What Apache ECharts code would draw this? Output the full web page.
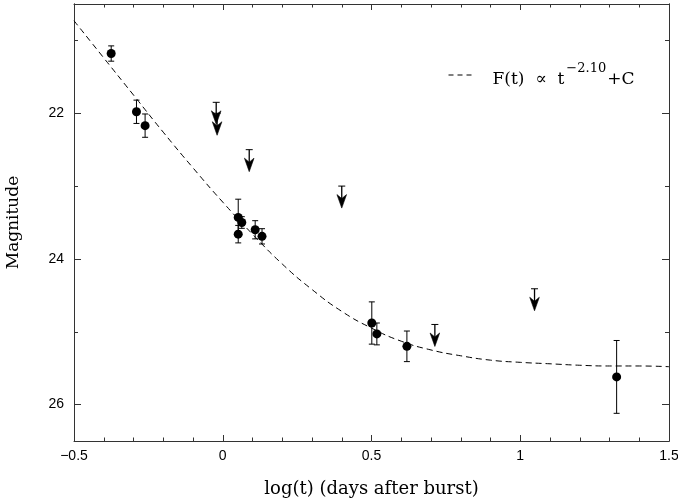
<!DOCTYPE html>
<html>
<head>
<meta charset="utf-8">
<script src="https://cdn.jsdelivr.net/npm/echarts@6/dist/echarts.min.js"></script>
<style>html,body{margin:0;padding:0;background:#fff}#c{width:678px;height:502px}</style>
</head>
<body>
<div id="c"></div>
<script>
// Detections: log(t), magnitude, 1-sigma error
var xPts   = [-0.375, -0.290, -0.261, 0.052, 0.064, 0.052, 0.109, 0.132, 0.501, 0.518, 0.619, 1.324];
var magPts = [21.18, 21.98, 22.17, 23.43, 23.50, 23.66, 23.60, 23.69, 24.88, 25.03, 25.20, 25.62];
var errPts = [0.105, 0.16, 0.16, 0.25, 0.08, 0.12, 0.125, 0.105, 0.29, 0.15, 0.21, 0.50];
// Upper limits
var xLim   = [-0.022, -0.019, 0.089, 0.400, 0.713, 1.048];
var magLim = [21.85, 22.00, 22.50, 23.00, 24.90, 24.41];
// Fitted curve samples
var xCurve   = [-0.5, -0.4, -0.3, -0.2, -0.1, 0.0, 0.1, 0.2, 0.3, 0.4, 0.5, 0.6, 0.7, 0.8, 0.9, 1.0, 1.1, 1.2, 1.3, 1.4, 1.5];
var magCurve = [20.73, 21.24, 21.75, 22.26, 22.75, 23.22, 23.66, 24.07, 24.42, 24.72, 24.95, 25.13, 25.25, 25.33, 25.39, 25.42, 25.44, 25.46, 25.47, 25.47, 25.48];
// Axis ticks
var xTicks = [-0.5, 0, 0.5, 1, 1.5];
var xTickLabels = ['\u22120.5', '0', '0.5', '1', '1.5'];
var yTicks = [22, 24, 26];
var yTickLabels = ['22', '24', '26'];
var yMinorTicks = [21, 23, 25];

var fitName = 'fit';
var axisColor = '#333';

var detData = xPts.map(function (x, i) { return [x, magPts[i]]; });
var errData = xPts.map(function (x, i) { return [x, magPts[i] - errPts[i], magPts[i] + errPts[i]]; });
var limData = xLim.map(function (x, i) { return [x, magLim[i]]; });
var curveData = xCurve.map(function (x, i) { return [x, magCurve[i]]; });

function xFmt(v) {
  for (var i = 0; i < xTicks.length; i++) if (Math.abs(xTicks[i] - v) < 1e-9) return xTickLabels[i];
  return '';
}
function yFmt(v) {
  for (var i = 0; i < yTicks.length; i++) if (Math.abs(yTicks[i] - v) < 1e-9) return yTickLabels[i];
  return '';
}

var xBase = {
  type: 'value', min: -0.5, max: 1.5, interval: 0.5,
  axisLine: { show: true, onZero: false, lineStyle: { color: axisColor, width: 1 } },
  axisTick: { show: true, inside: true, length: 6, lineStyle: { color: axisColor } },
  minorTick: { show: true, splitNumber: 5, length: 3.5, lineStyle: { color: axisColor } },
  splitLine: { show: false }
};
var yBase = {
  type: 'value', min: 20.5, max: 26.5, inverse: true,
  axisLine: { show: true, onZero: false, lineStyle: { color: axisColor, width: 1 } },
  splitLine: { show: false }
};

var chart = echarts.init(document.getElementById('c'), null, { renderer: 'canvas' });
chart.setOption({
  animation: false,
  backgroundColor: '#fff',
  grid: { left: 74, right: 9, top: 4, bottom: 61, outerBoundsMode: 'none' },
  legend: {
    data: [fitName], left: 443, top: 57, itemWidth: 26, itemHeight: 14, itemGap: 5,
    itemStyle: { opacity: 0 },
    lineStyle: { color: '#000', width: 1, type: [5, 4] },
    formatter: function () { return '{n|F(t)  \u221D  t}{s|\u22122.10}{n|+C}'; },
    textStyle: {
      color: '#000', padding: [0, 0, 0, 13],
      rich: {
        n: { fontFamily: 'DejaVu Serif', fontSize: 17, color: '#000', lineHeight: 26, verticalAlign: 'bottom' },
        s: { fontFamily: 'DejaVu Serif', fontSize: 13, color: '#000', lineHeight: 26, verticalAlign: 'top', padding: [0, 1, 0, 2] }
      }
    }
  },
  xAxis: [
    Object.assign({}, xBase, {
      position: 'bottom',
      name: 'log(t) (days after burst)', nameLocation: 'middle', nameGap: 39,
      nameTextStyle: { fontFamily: 'DejaVu Serif', fontSize: 18, color: '#000' },
      axisLabel: { show: true, margin: 8, color: '#000', fontFamily: 'Liberation Sans', fontSize: 14, formatter: xFmt }
    }),
    Object.assign({}, xBase, { position: 'top', axisLabel: { show: false } })
  ],
  yAxis: [
    Object.assign({}, yBase, {
      position: 'left', offset: 0,
      name: 'Magnitude', nameLocation: 'middle', nameGap: 52,
      nameTextStyle: { fontFamily: 'DejaVu Serif', fontSize: 17, color: '#000' },
      axisTick: { show: true, inside: true, length: 7, customValues: yTicks, lineStyle: { color: axisColor } },
      axisLabel: { show: true, margin: 10, color: '#000', fontFamily: 'Liberation Sans', fontSize: 14, customValues: yTicks, formatter: yFmt }
    }),
    Object.assign({}, yBase, {
      position: 'left', offset: 0,
      axisTick: { show: true, inside: true, length: 4, customValues: yMinorTicks, lineStyle: { color: axisColor } },
      axisLabel: { show: false, customValues: yMinorTicks }
    }),
    Object.assign({}, yBase, {
      position: 'right', offset: 0,
      axisTick: { show: true, inside: true, length: 7, customValues: yTicks, lineStyle: { color: axisColor } },
      axisLabel: { show: false, customValues: yTicks }
    }),
    Object.assign({}, yBase, {
      position: 'right', offset: 0,
      axisTick: { show: true, inside: true, length: 4, customValues: yMinorTicks, lineStyle: { color: axisColor } },
      axisLabel: { show: false, customValues: yMinorTicks }
    })
  ],
  series: [
    {
      name: fitName, type: 'line', data: curveData, smooth: true, showSymbol: false, symbol: 'none',
      lineStyle: { color: '#000', width: 1, type: [6, 4] }, itemStyle: { color: '#000' },
      clip: true, z: 2
    },
    {
      name: 'err', type: 'custom', data: errData, encode: { x: 0, y: [1, 2] }, z: 3,
      renderItem: function (params, api) {
        var x = api.value(0);
        var a = api.coord([x, api.value(1)]);
        var b = api.coord([x, api.value(2)]);
        var w = 3;
        var st = { stroke: '#000', lineWidth: 1 };
        return { type: 'group', children: [
          { type: 'line', shape: { x1: a[0], y1: a[1], x2: b[0], y2: b[1] }, style: st },
          { type: 'line', shape: { x1: a[0] - w, y1: a[1], x2: a[0] + w, y2: a[1] }, style: st },
          { type: 'line', shape: { x1: b[0] - w, y1: b[1], x2: b[0] + w, y2: b[1] }, style: st }
        ] };
      }
    },
    {
      name: 'det', type: 'scatter', data: detData, symbol: 'circle', symbolSize: 9,
      itemStyle: { color: '#000', opacity: 1 }, z: 4
    },
    {
      name: 'lim', type: 'custom', data: limData, encode: { x: 0, y: 1 }, z: 4,
      renderItem: function (params, api) {
        var p = api.coord([api.value(0), api.value(1)]);
        var x = p[0], y = p[1];
        var st = { stroke: '#000', lineWidth: 1 };
        return { type: 'group', children: [
          { type: 'line', shape: { x1: x - 3.5, y1: y, x2: x + 3.5, y2: y }, style: st },
          { type: 'line', shape: { x1: x, y1: y, x2: x, y2: y + 14 }, style: { stroke: '#000', lineWidth: 1.3 } },
          { type: 'polygon', shape: { points: [[x, y + 22], [x - 4.8, y + 8.5], [x, y + 12.5], [x + 4.8, y + 8.5]] }, style: { fill: '#000', stroke: '#000', lineWidth: 0.6 } }
        ] };
      }
    }
  ]
});
</script>
</body>
</html>
